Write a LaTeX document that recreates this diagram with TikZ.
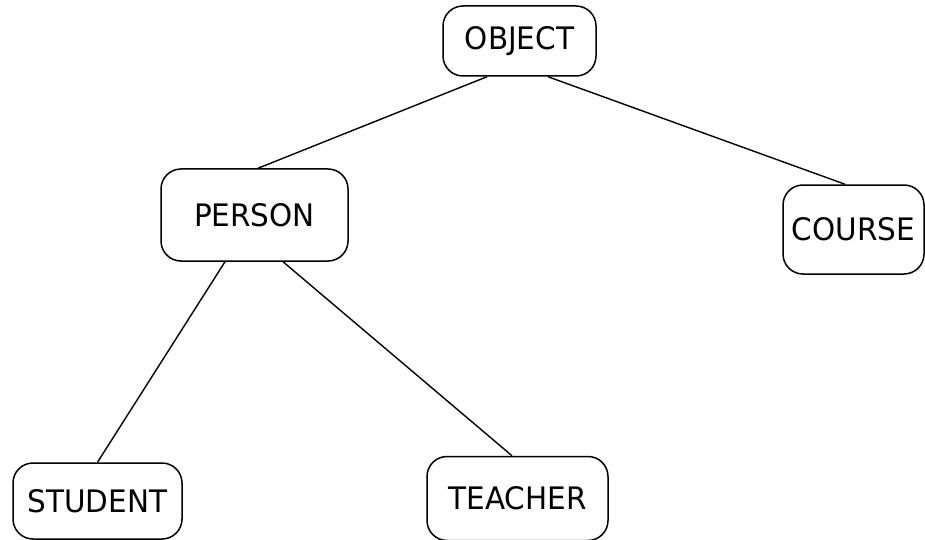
\documentclass[tikz,border=0pt]{standalone}
\usepackage{fontspec}
\setmainfont{DejaVu Sans}[FakeStretch=0.95]
\begin{document}
\begin{tikzpicture}[x=1pt,y=-1pt,
  classbox/.style={draw, line width=1.5pt, rounded corners=20pt,
    inner sep=0pt, font=\fontsize{31}{33}\selectfont},
  link/.style={line width=1.4pt}]
\useasboundingbox (0,0) rectangle (925,540);

% class boxes
\node[classbox, minimum width=153pt, minimum height=70pt] (object)  at (519.5,41)  {OBJECT};
\node[classbox, minimum width=187pt, minimum height=92pt] (person)  at (254.5,215) {PERSON};
\node[classbox, minimum width=141pt, minimum height=89pt] (course)  at (853.5,229.5) {COURSE};
\node[classbox, minimum width=169pt, minimum height=76pt] (student) at (97.5,501)  {STUDENT};
\node[classbox, minimum width=181pt, minimum height=84pt] (teacher) at (517.5,498.5) {TEACHER};

% inheritance links
\draw[link] ([xshift=-32.5pt]object.south) -- ([xshift=3.5pt]person.north);
\draw[link] ([xshift=28.5pt]object.south)  -- ([xshift=-8.5pt]course.north);
\draw[link] ([xshift=-29.5pt]person.south) -- (student.north);
\draw[link] ([xshift=28.5pt]person.south)  -- ([xshift=-5.5pt]teacher.north);
\end{tikzpicture}
\end{document}
